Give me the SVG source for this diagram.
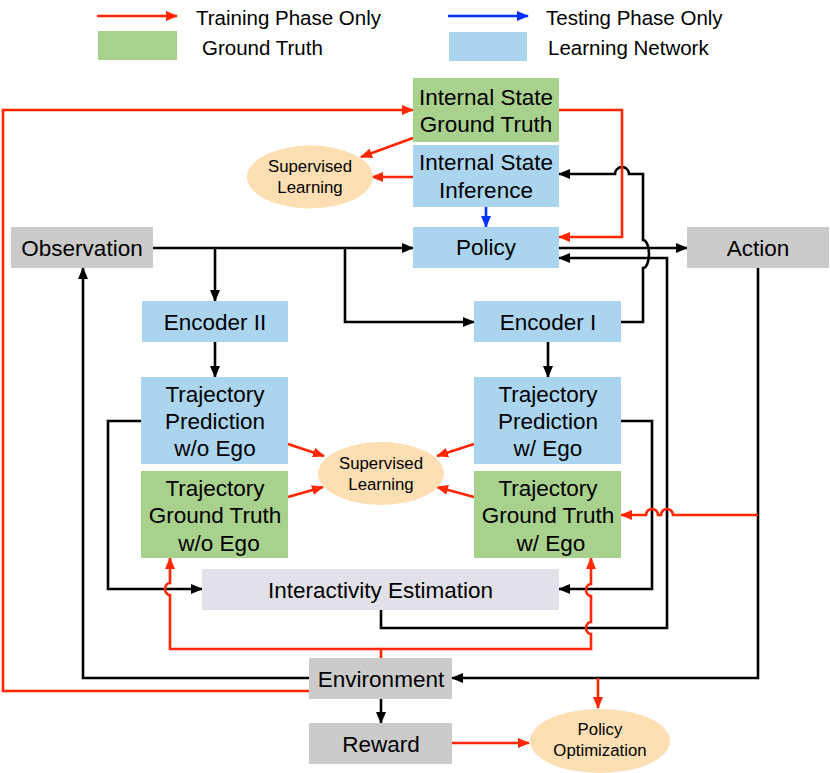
<svg xmlns="http://www.w3.org/2000/svg" width="830" height="773" viewBox="0 0 830 773">
<style>
text{font-family:"Liberation Sans",Arial,Helvetica,sans-serif;fill:#000;text-anchor:middle}
.b{font-size:22.5px}
.s{font-size:16.8px}
.lg{font-size:20.5px;text-anchor:start}
.gt{fill:#a9d18e}
.ln{fill:#abd5ef}
.gr{fill:#cbcbcb}
.ie{fill:#e2e0e8}
.el{fill:#fddfb3}
.k{fill:none;stroke:#000;stroke-width:2.6;marker-end:url(#ak)}
.k0{fill:none;stroke:#000;stroke-width:2.6}
.r{fill:none;stroke:#ff2600;stroke-width:2.6;marker-end:url(#ar)}
.r0{fill:none;stroke:#ff2600;stroke-width:2.6}
.u{fill:none;stroke:#0433ff;stroke-width:2.6;marker-end:url(#au)}
</style>
<defs>
<marker id="ak" markerUnits="userSpaceOnUse" markerWidth="12" markerHeight="10" refX="11" refY="5" orient="auto"><path d="M0,0 L12,5 L0,10 z" fill="#000"/></marker>
<marker id="ar" markerUnits="userSpaceOnUse" markerWidth="12" markerHeight="10" refX="11" refY="5" orient="auto"><path d="M0,0 L12,5 L0,10 z" fill="#ff2600"/></marker>
<marker id="au" markerUnits="userSpaceOnUse" markerWidth="12" markerHeight="10" refX="11" refY="5" orient="auto"><path d="M0,0 L12,5 L0,10 z" fill="#0433ff"/></marker>
</defs>

<g id="legend">
<path class="r" d="M97,16 H177"/>
<text class="lg" x="196" y="25">Training Phase Only</text>
<path class="u" d="M448,16 H528"/>
<text class="lg" x="546" y="25">Testing Phase Only</text>
<rect class="gt" x="98" y="31" width="79" height="29"/>
<text class="lg" x="202" y="55">Ground Truth</text>
<rect class="ln" x="449" y="32" width="78" height="29"/>
<text class="lg" x="548" y="55">Learning Network</text>
</g>

<g id="connectors">
<!-- black -->
<path class="k" d="M153,248 H413"/>
<path class="k" d="M215,248 V301"/>
<path class="k" d="M345,248 V322 H474"/>
<path class="k" d="M215,342 V377"/>
<path class="k" d="M548,342 V377"/>
<path class="k" d="M559,248 H687"/>
<path class="k" d="M621,322 H643 V268 A6,14 0 0 0 643,240 V174 H629 A7,7 0 0 0 615,174 H559"/>
<path class="k" d="M381,610 V628 H667 V258 H559"/>
<path class="k" d="M758,268 V678 H452"/>
<path class="k" d="M309,678 H83 V268"/>
<path class="k" d="M381,699 V723"/>
<path class="k" d="M141,421 H108 V589 H202"/>
<path class="k" d="M621,421 H652 V589 H559"/>
<!-- red -->
<path class="r" d="M309,691 H3 V110 H413"/>
<path class="r" d="M559,110 H622 V237 H559"/>
<path class="r" d="M413,138 L361,157"/>
<path class="r" d="M413,177 H372"/>
<path class="r" d="M381,658 V649 H170 V595 A5,6 0 0 1 170,583 V558"/>
<path class="r" d="M381,649 H591 V634 A5,6 0 0 1 591,622 V596 A5,6 0 0 1 591,584 V558"/>
<path class="r" d="M758,515 H673 A6,6 0 0 0 661,515 H658 A6,6 0 0 0 646,515 H621"/>
<path class="r" d="M598,678 V708"/>
<path class="r" d="M452,743 H529"/>
<path class="r" d="M288,444 L324,456"/>
<path class="r" d="M288,497 L323,487"/>
<path class="r" d="M474,444 L437,456"/>
<path class="r" d="M474,497 L437,487"/>
<!-- blue -->
<path class="u" d="M486,207 V227"/>
</g>

<g id="is-gt"><rect class="gt" x="413" y="78" width="146" height="64"/><text class="b" x="486" y="105">Internal State</text><text class="b" x="486" y="132">Ground Truth</text></g>
<g id="is-inf"><rect class="ln" x="413" y="145" width="146" height="62"/><text class="b" x="486" y="170">Internal State</text><text class="b" x="486" y="198">Inference</text></g>
<g id="sl-top"><ellipse class="el" cx="310" cy="177" rx="63" ry="31.5"/><text class="s" x="310" y="172">Supervised</text><text class="s" x="310" y="193">Learning</text></g>
<g id="policy"><rect class="ln" x="413" y="227" width="146" height="41"/><text class="b" x="486" y="255">Policy</text></g>
<g id="observation"><rect class="gr" x="11" y="227" width="142" height="41"/><text class="b" x="82" y="256">Observation</text></g>
<g id="action"><rect class="gr" x="687" y="227" width="142" height="41"/><text class="b" x="758" y="256">Action</text></g>
<g id="enc2"><rect class="ln" x="142" y="301" width="146" height="41"/><text class="b" x="215" y="330">Encoder II</text></g>
<g id="enc1"><rect class="ln" x="474" y="301" width="147" height="41"/><text class="b" x="548" y="330">Encoder I</text></g>
<g id="tp-wo"><rect class="ln" x="141" y="377" width="147" height="87"/><text class="b" x="215" y="402">Trajectory</text><text class="b" x="215" y="429">Prediction</text><text class="b" x="215" y="456">w/o Ego</text></g>
<g id="tgt-wo"><rect class="gt" x="141" y="471" width="147" height="87"/><text class="b" x="215" y="496">Trajectory</text><text class="b" x="215" y="523">Ground Truth</text><text class="b" x="219" y="551">w/o Ego</text></g>
<g id="tp-w"><rect class="ln" x="474" y="377" width="147" height="87"/><text class="b" x="548" y="402">Trajectory</text><text class="b" x="548" y="429">Prediction</text><text class="b" x="548" y="456">w/ Ego</text></g>
<g id="tgt-w"><rect class="gt" x="474" y="471" width="147" height="87"/><text class="b" x="548" y="496">Trajectory</text><text class="b" x="548" y="523">Ground Truth</text><text class="b" x="551" y="551">w/ Ego</text></g>
<g id="sl-mid"><ellipse class="el" cx="381" cy="473.5" rx="63" ry="31.5"/><text class="s" x="381" y="469">Supervised</text><text class="s" x="381" y="490">Learning</text></g>
<g id="interactivity"><rect class="ie" x="202" y="569" width="357" height="41"/><text class="b" x="380.5" y="598">Interactivity Estimation</text></g>
<g id="environment"><rect class="gr" x="309" y="658" width="143" height="41"/><text class="b" x="381" y="687">Environment</text></g>
<g id="reward"><rect class="gr" x="309" y="723" width="143" height="41"/><text class="b" x="381" y="752">Reward</text></g>
<g id="policy-opt"><ellipse class="el" cx="600" cy="741" rx="70" ry="32"/><text class="s" x="600" y="735">Policy</text><text class="s" x="600" y="756">Optimization</text></g>
</svg>
